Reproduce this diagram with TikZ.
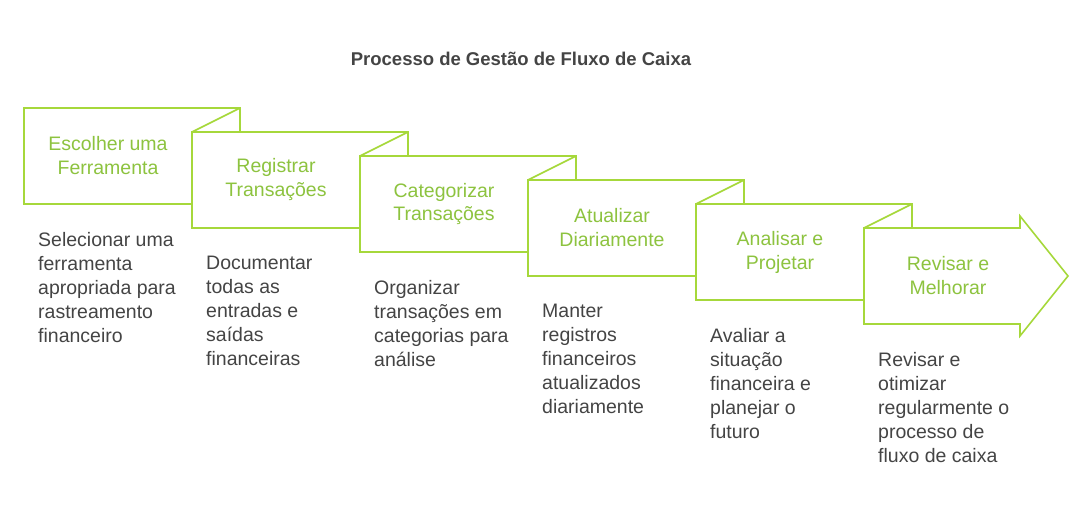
\documentclass[tikz,border=0pt]{standalone}
\usepackage{fontspec}
\setmainfont{Liberation Sans}
\definecolor{stepline}{HTML}{A6D83B}
\definecolor{steptext}{HTML}{8DC33F}
\definecolor{desctext}{HTML}{444444}
\begin{document}
\begin{tikzpicture}[
      x=1pt, y=-1pt,
      box/.style={draw=stepline,line width=1.6pt,fill=white,line join=miter},
      title/.style={text=steptext,align=center,font=\fontsize{19.5}{24}\selectfont},
      desc/.style={text=desctext,align=left,anchor=north west,inner sep=0pt,font=\fontsize{19.5}{24}\selectfont}
    ]
    \useasboundingbox (0,0) rectangle (1092,516);
    \node[font=\bfseries\fontsize{18.5}{20}\selectfont,text=desctext] (head) at (521,59) {Processo de Gestão de Fluxo de Caixa};
    \foreach \i/\name/\info in {
        0/{Escolher uma\\Ferramenta}/{Selecionar uma\\ferramenta\\apropriada para\\rastreamento\\financeiro},
        1/{Registrar\\Transações}/{Documentar\\todas as\\entradas e\\saídas\\financeiras},
        2/{Categorizar\\Transações}/{Organizar\\transações em\\categorias para\\análise},
        3/{Atualizar\\Diariamente}/{Manter\\registros\\financeiros\\atualizados\\diariamente},
        4/{Analisar e\\Projetar}/{Avaliar a\\situação\\financeira e\\planejar o\\futuro},
        5/{Revisar e\\Melhorar}/{Revisar e\\otimizar\\regularmente o\\processo de\\fluxo de caixa}} {
      \pgfmathsetmacro\xa{24+168*\i}
      \pgfmathsetmacro\ya{108+24*\i}
      \ifnum\i<5
        \draw[box] (\xa,\ya) rectangle ++(216,96);
      \else
        \draw[box] (\xa,\ya) -- ++(156,0) -- ++(0,-12) -- ++(48,60) -- ++(-48,60)
          -- ++(0,-12) -- ++(-156,0) -- cycle;
      \fi
      \ifnum\i>0
        \draw[box] (\xa,\ya) -- ++(48,-24);
      \fi
      \node[title] (step\i) at (\xa+84,\ya+48) {\name};
      \node[desc] (info\i) at (\xa+14,\ya+124) {\info};
    }
  \end{tikzpicture}
\end{document}
